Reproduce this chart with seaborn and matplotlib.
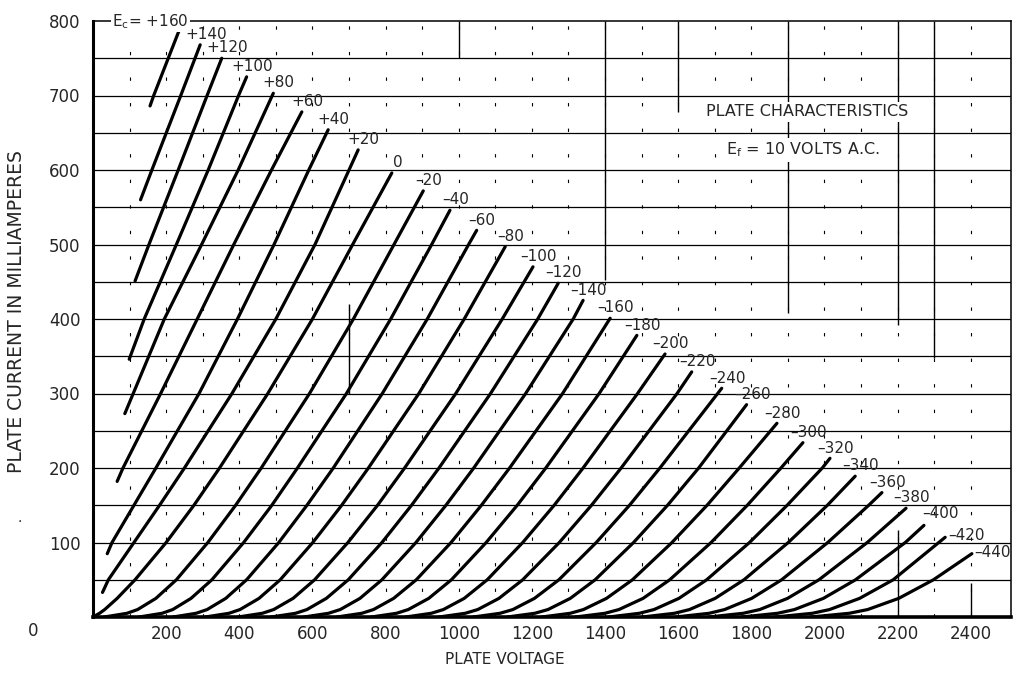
import matplotlib
matplotlib.use('Agg')
import pandas as pd
import seaborn as sns
import matplotlib.pyplot as plt

# grid bias of every curve, volts
grid_volts = [160, 140, 120, 100, 80, 60, 40, 20, 0, -20, -40, -60, -80, -100, -120,
              -140, -160, -180, -200, -220, -240, -260, -280, -300, -320, -340, -360,
              -380, -400, -420, -440]

# lower end of each curve (plate volts, mA)
v_low = [156, 130, 115, 99, 87, 66, 39, 26, 0, 31, 126, 219, 307, 397, 487, 577, 667, 761,
         855, 946, 1040, 1133, 1227, 1319, 1410, 1502, 1593, 1684, 1774, 1865, 1963]
i_low = [686, 560, 451, 346, 273, 182, 85, 33, 0, 0, 0, 0, 0, 0, 0, 0, 0, 0, 0, 0, 0, 0,
         0, 0, 0, 0, 0, 0, 0, 0, 0]
# upper end of each curve (where the label sits)
v_high = [236, 293, 352, 420, 493, 571, 643, 725, 817, 903, 976, 1049, 1127, 1203, 1272,
          1340, 1414, 1487, 1564, 1637, 1719, 1787, 1870, 1941, 2015, 2084, 2157, 2223,
          2272, 2330, 2403]
i_high = [788, 768, 750, 725, 703, 678, 654, 627, 596, 572, 546, 519, 497, 470, 448, 425,
          401, 378, 353, 329, 307, 285, 260, 234, 213, 189, 167, 146, 123, 107, 85]

N = None
# plate volts where each curve crosses a given plate current
v_at_5 = [N, N, N, N, N, N, N, N, 18, 93, 189, 282, 372, 463, 554, 644, 735, 830, 925,
          1018, 1113, 1208, 1305, 1400, 1494, 1590, 1685, 1778, 1872, 1967, 2068]
v_at_10 = [N, N, N, N, N, N, N, N, 32, 122, 218, 312, 402, 494, 585, 676, 767, 862, 958,
           1052, 1148, 1244, 1341, 1438, 1534, 1631, 1727, 1823, 1918, 2014, 2118]
v_at_25 = [N, N, N, N, N, N, N, N, 66, 172, 268, 363, 454, 547, 638, 730, 822, 918, 1015,
           1110, 1207, 1305, 1404, 1504, 1602, 1701, 1801, 1899, 1997, 2096, 2203]
v_at_50 = [N, N, N, N, N, N, N, 42, 115, 228, 325, 420, 512, 606, 698, 790, 884, 980, 1078,
           1175, 1274, 1373, 1475, 1577, 1678, 1780, 1883, 1985, 2085, 2188, 2298]
v_at_100 = [N, N, N, N, N, N, 52, 112, 200, 314, 412, 508, 601, 697, 790, 883, 979, 1075,
            1175, 1275, 1376, 1478, 1583, 1690, 1795, 1901, 2009, 2117, 2221, N, N]
v_at_150 = [N, N, N, N, N, N, 112, 182, 276, 390, 489, 585, 680, 778, 871, 965, 1062, 1160,
            1261, 1363, 1467, 1571, 1679, 1789, 1898, 2008, 2121, N, N, N, N]
v_at_200 = [N, N, N, N, N, 82, 172, 250, 346, 460, 559, 657, 753, 852, 946, 1041, 1139,
            1238, 1340, 1444, 1550, 1656, 1767, 1881, 1994, N, N, N, N, N, N]
v_at_300 = [N, N, N, N, 110, 185, 290, 380, 478, 592, 693, 791, 891, 992, 1087, 1183, 1284,
            1384, 1489, 1597, N, N, N, N, N, N, N, N, N, N, N]
v_at_400 = [N, N, N, 140, 195, 285, 395, 500, 600, 712, 814, 914, 1015, 1119, 1216, 1313,
            N, N, N, N, N, N, N, N, N, N, N, N, N, N, N]
v_at_500 = [N, N, 153, 228, 297, 385, 495, 607, 710, 823, 926, 1027, N, N, N, N, N, N, N,
            N, N, N, N, N, N, N, N, N, N, N, N]
v_at_600 = [N, 161, 233, 315, 397, 488, 590, 700, N, N, N, N, N, N, N, N, N, N, N, N, N,
            N, N, N, N, N, N, N, N, N, N]
v_at_700 = [166, 240, 312, 398, N, N, N, N, N, N, N, N, N, N, N, N, N, N, N, N, N, N, N,
            N, N, N, N, N, N, N, N]

levels = {5: v_at_5, 10: v_at_10, 25: v_at_25, 50: v_at_50, 100: v_at_100, 150: v_at_150,
          200: v_at_200, 300: v_at_300, 400: v_at_400, 500: v_at_500, 600: v_at_600,
          700: v_at_700}

rows = []
for k, ec in enumerate(grid_volts):
    pts = [(v_low[k], i_low[k])]
    for cur, vals in levels.items():
        if vals[k] is not None and i_low[k] < cur < i_high[k]:
            pts.append((vals[k], cur))
    pts.append((v_high[k], i_high[k]))
    for order, (v, i) in enumerate(pts):
        rows.append({'curve': ec, 'order': order, 'volts': v, 'ma': i})
df = pd.DataFrame(rows)

sns.set_style('white')
plt.rcParams['font.family'] = ['DejaVu Sans']
plt.rcParams['mathtext.fontset'] = 'dejavusans'

fig = plt.figure(figsize=(10.19, 6.75), dpi=100)
ax = fig.add_axes([93 / 1019, 1 - 617 / 675, (1011 - 93) / 1019, (617 - 21) / 675])

# grid: solid horizontals every 50 mA, broken verticals every 100 V
for y in range(50, 800, 50):
    ax.axhline(y, color='black', lw=0.9, zorder=1)
for x in range(100, 2500, 100):
    ax.axvline(x, color='black', lw=0.8, ls=(0, (3, 20)), zorder=1)
# the few vertical rules that print solid
solid = [(1000, 750, 800), (1400, 452, 800), (1600, 678, 800), (1900, 408, 800),
         (2200, 392, 800), (2300, 348, 800), (2200, 0, 117), (2400, 0, 45), (700, 300, 420)]
for x, y0, y1 in solid:
    ax.vlines(x, y0, y1, color='black', lw=1.0, zorder=1)

sns.lineplot(data=df, x='volts', y='ma', units='curve', estimator=None, sort=False,
             color='black', lw=2.3, ax=ax, legend=False, zorder=3)

ax.set_xlim(0, 2510)
ax.set_ylim(0, 800)
ax.set_xticks(range(200, 2401, 200))
ax.set_yticks(range(100, 801, 100))
ax.tick_params(length=0, labelsize=12)
ax.tick_params(axis='y', pad=9)
ax.tick_params(axis='x', pad=6)
ax.set_xlabel('')
ax.set_ylabel('')
for s in ax.spines.values():
    s.set_color('black')
    s.set_linewidth(1.1)
ax.spines['left'].set_linewidth(2.2)
ax.spines['bottom'].set_linewidth(2.6)

# curve labels
for k, ec in enumerate(grid_volts):
    if k == 0:
        continue
    lab = '0' if ec == 0 else ('+%d' % ec if ec > 0 else '\u2013%d' % -ec)
    xy = (v_high[k], i_high[k])
    if ec >= -380:
        ax.annotate(lab, xy, xytext=(4, 2), textcoords='offset points',
                    ha='center', va='bottom', fontsize=11, zorder=4)
    elif ec == -400:
        ax.annotate(lab, xy, xytext=(-1, 3), textcoords='offset points',
                    ha='left', va='bottom', fontsize=11, zorder=4)
    else:
        ax.annotate(lab, xy, xytext=(2, 1), textcoords='offset points',
                    ha='left', va='center', fontsize=11, zorder=4)
ax.text(157, 799, 'E$_\\mathrm{c}$= +160', ha='center', va='center', fontsize=11,
        bbox=dict(fc='white', ec='none', pad=1), clip_on=False, zorder=5)

box = dict(fc='white', ec='none', pad=2)
ax.text(1952, 678, 'PLATE CHARACTERISTICS', ha='center', va='center', fontsize=11.5,
        bbox=box, zorder=2)
ax.text(1941, 627, 'E$_\\mathrm{f}$ = 10 VOLTS A.C.', ha='center', va='center', fontsize=11.5,
        bbox=box, zorder=2)

fig.text(33 / 1019, 1 - 631 / 675, '0', ha='center', va='center', fontsize=12)
fig.text(505 / 1019, 1 - 660 / 675, 'PLATE VOLTAGE', ha='center', va='center', fontsize=11)
fig.text(17 / 1019, 1 - 312 / 675, 'PLATE CURRENT IN MILLIAMPERES', ha='center', va='center',
         rotation=90, fontsize=13.5)
fig.text(20 / 1019, 1 - 518 / 675, '.', ha='center', va='center', fontsize=10)

fig.savefig('out.png', dpi=100)
